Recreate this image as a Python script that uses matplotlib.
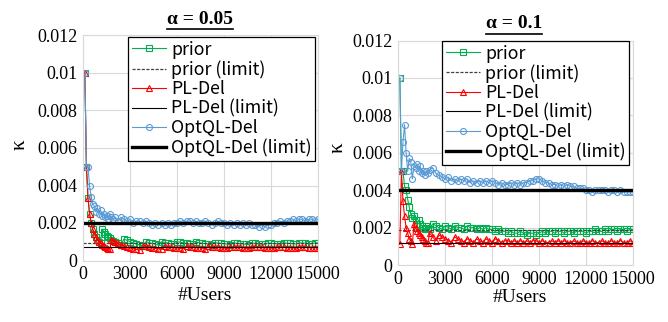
import matplotlib
matplotlib.use("Agg")
import matplotlib.pyplot as plt
from matplotlib.lines import Line2D

# number of users (x axis)
users = list(range(100, 2001, 100)) + list(range(2200, 15001, 200))

# alpha = 0.05
prior_05 = [0.01, 0.005, 0.00333, 0.0025, 0.002, 0.00167, 0.00143, 0.00125, 0.00111, 0.001,
            0.00091, 0.00167, 0.00154, 0.00143, 0.00133, 0.00125, 0.00118, 0.00111, 0.00105, 0.001,
            0.00091, 0.00083, 0.00115, 0.00107, 0.001, 0.00094, 0.00088, 0.00083, 0.00079, 0.001,
            0.00095, 0.00091, 0.00087, 0.00083, 0.001, 0.00096, 0.00093, 0.00089, 0.00086, 0.001,
            0.00097, 0.00094, 0.00091, 0.00088, 0.00086, 0.00097, 0.00095, 0.00092, 0.0009, 0.00088,
            0.00085, 0.00095, 0.00093, 0.00091, 0.00089, 0.00087, 0.00085, 0.00094, 0.00092, 0.0009,
            0.00088, 0.00087, 0.00085, 0.00093, 0.00091, 0.00089, 0.00088, 0.00086, 0.00093, 0.00092,
            0.0009, 0.00089, 0.00087, 0.00094, 0.00092, 0.00091, 0.0009, 0.00088, 0.00094, 0.00093,
            0.00092, 0.0009, 0.00089, 0.00095, 0.00093]
pl_05 = [0.01, 0.005, 0.00333, 0.0025, 0.002, 0.00167, 0.00143, 0.00125, 0.00111, 0.001,
         0.00091, 0.00083, 0.00077, 0.00071, 0.00067, 0.00063, 0.00059, 0.00111, 0.00105, 0.001,
         0.00091, 0.00083, 0.00077, 0.00071, 0.00067, 0.00063, 0.00059, 0.00056, 0.00079, 0.00075,
         0.00071, 0.00068, 0.00065, 0.00063, 0.0006, 0.00077, 0.00074, 0.00071, 0.00069, 0.00067,
         0.00065, 0.00063, 0.00076, 0.00074, 0.00071, 0.00069, 0.00068, 0.00066, 0.00064, 0.00075,
         0.00073, 0.00071, 0.0007, 0.00068, 0.00067, 0.00065, 0.00074, 0.00073, 0.00071, 0.0007,
         0.00069, 0.00067, 0.00066, 0.00074, 0.00073, 0.00071, 0.0007, 0.00069, 0.00068, 0.00067,
         0.00066, 0.00073, 0.00071, 0.0007, 0.00069, 0.00068, 0.00067, 0.00066, 0.00072, 0.00071,
         0.0007, 0.00069, 0.00068, 0.00068, 0.00067]
opt_05 = [0.01, 0.005, 0.005, 0.004, 0.0034, 0.003, 0.0029, 0.0026, 0.0028, 0.0025,
          0.0027, 0.0024, 0.0025, 0.0023, 0.0024, 0.0022, 0.0025, 0.0023, 0.0022, 0.0023,
          0.0021, 0.0023, 0.0022, 0.0021, 0.0022, 0.002, 0.0021, 0.0021, 0.002, 0.0021,
          0.002, 0.0019, 0.002, 0.0019, 0.002, 0.0019, 0.002, 0.0019, 0.002, 0.002,
          0.0021, 0.002, 0.0021, 0.0021, 0.002, 0.0021, 0.002, 0.002, 0.0021, 0.002,
          0.0019, 0.002, 0.0021, 0.002, 0.002, 0.0019, 0.002, 0.0019, 0.002, 0.0019,
          0.002, 0.0019, 0.002, 0.0019, 0.0019, 0.0018, 0.0019, 0.0018, 0.0019, 0.0019,
          0.002, 0.002, 0.0021, 0.002, 0.0021, 0.0021, 0.0022, 0.0021, 0.0022, 0.0022,
          0.0021, 0.0022, 0.0022, 0.0021, 0.0022]
limits_05 = [0.00095, 0.0007, 0.002]  # prior, PL-Del, OptQL-Del

# alpha = 0.1
prior_1 = [0.01, 0.005, 0.005, 0.0042, 0.004, 0.0035, 0.0031, 0.0027, 0.0025, 0.0026,
           0.0024, 0.0022, 0.0024, 0.0022, 0.0021, 0.002, 0.0019, 0.0021, 0.002, 0.0019,
           0.0022, 0.0021, 0.002, 0.0019, 0.0021, 0.002, 0.0019, 0.0021, 0.002, 0.002,
           0.0019, 0.0021, 0.002, 0.002, 0.0019, 0.002, 0.0019, 0.002, 0.0019, 0.0019,
           0.0018, 0.0019, 0.0018, 0.0018, 0.0017, 0.0018, 0.0017, 0.0017, 0.0018, 0.0017,
           0.0016, 0.0017, 0.0017, 0.0016, 0.0017, 0.0018, 0.0017, 0.0018, 0.0018, 0.0017,
           0.0018, 0.0018, 0.0017, 0.0018, 0.0018, 0.0017, 0.0018, 0.0018, 0.0018, 0.0017,
           0.0018, 0.0018, 0.0019, 0.0018, 0.0018, 0.0019, 0.0018, 0.0019, 0.0019, 0.0018,
           0.0019, 0.0019, 0.0018, 0.0019, 0.0019]
pl_1 = [0.0011, 0.005, 0.0034, 0.0026, 0.002, 0.0017, 0.0014, 0.0013, 0.0011, 0.0022,
        0.002, 0.0018, 0.0017, 0.0016, 0.0015, 0.0014, 0.0013, 0.0012, 0.0012, 0.0017,
        0.0015, 0.0013, 0.0016, 0.0015, 0.0014, 0.0013, 0.0012, 0.0015, 0.0014, 0.0013,
        0.0012, 0.0014, 0.0013, 0.0012, 0.0014, 0.0013, 0.0012, 0.0014, 0.0013, 0.0012,
        0.0014, 0.0013, 0.0012, 0.0013, 0.0013, 0.0012, 0.0013, 0.0012, 0.0013, 0.0012,
        0.0013, 0.0012, 0.0013, 0.0013, 0.0012, 0.0013, 0.0012, 0.0012, 0.0013, 0.0012,
        0.0013, 0.0012, 0.0013, 0.0012, 0.0012, 0.0013, 0.0012, 0.0012, 0.0013, 0.0012,
        0.0012, 0.0013, 0.0012, 0.0012, 0.0013, 0.0012, 0.0012, 0.0013, 0.0012, 0.0012,
        0.0013, 0.0012, 0.0012, 0.0013, 0.0012]
opt_1 = [0.01, 0.005, 0.0066, 0.0075, 0.006, 0.005, 0.0057, 0.0055, 0.0046, 0.0053,
         0.0052, 0.0054, 0.005, 0.0053, 0.0049, 0.005, 0.0048, 0.005, 0.0049, 0.0051,
         0.0052, 0.0049, 0.0048, 0.0047, 0.0046, 0.0047, 0.0045, 0.0046, 0.0045, 0.0046,
         0.0045, 0.0046, 0.0044, 0.0045, 0.0044, 0.0045, 0.0044, 0.0045, 0.0044, 0.0045,
         0.0044, 0.0043, 0.0044, 0.0043, 0.0043, 0.0044, 0.0043, 0.0044, 0.0043, 0.0044,
         0.0044, 0.0045, 0.0045, 0.0046, 0.0046, 0.0045, 0.0044, 0.0044, 0.0043, 0.0043,
         0.0042, 0.0043, 0.0042, 0.0043, 0.0042, 0.0042, 0.0041, 0.0041, 0.0041, 0.004,
         0.004, 0.0039, 0.004, 0.004, 0.004, 0.004, 0.0039, 0.004, 0.004, 0.0039,
         0.004, 0.0039, 0.0039, 0.0039, 0.0039]
limits_1 = [0.00185, 0.0012, 0.004]

xticks = [0, 3000, 6000, 9000, 12000, 15000]
yticks = [0, 0.002, 0.004, 0.006, 0.008, 0.01, 0.012]
ytick_labels = ["0", "0.002", "0.004", "0.006", "0.008", "0.01", "0.012"]

GREEN = "#00B050"
RED = "#FF0000"
BLUE = "#5B9BD5"
SERIF = "Liberation Serif"
LEG_FONT = ["Noto Sans CJK JP", "DejaVu Sans"]

fig = plt.figure(figsize=(6.68, 3.22), dpi=100)
W, H = 668, 322


def px_axes(x0, y0, x1, y1):
    return fig.add_axes([x0 / W, 1 - y1 / H, (x1 - x0) / W, (y1 - y0) / H])


def draw(ax, prior, pl, opt, limits):
    ms = 4.3
    ax.plot(users, prior, color=GREEN, lw=0.8, marker="s", ms=ms - 0.3, mfc="none", mew=0.8, label="prior")
    ax.plot([0, 15000], [limits[0]] * 2, color="#404040", lw=0.9, ls=(0, (2.5, 1.2)), label="prior (limit)")
    ax.plot(users, pl, color=RED, lw=0.8, marker="^", ms=ms, mfc="none", mew=0.8, label="PL-Del")
    ax.plot([0, 15000], [limits[1]] * 2, color="black", lw=0.8, label="PL-Del (limit)")
    ax.plot(users, opt, color=BLUE, lw=0.8, marker="o", ms=ms, mfc="none", mew=0.8, label="OptQL-Del")
    ax.plot([0, 15000], [limits[2]] * 2, color="black", lw=2.4, label="OptQL-Del (limit)")
    ax.set_xlim(0, 15000)
    ax.set_ylim(0, 0.012)
    ax.set_xticks(xticks)
    ax.set_xticklabels([str(t) for t in xticks], fontfamily=SERIF, fontsize=13)
    ax.set_yticks(yticks)
    ax.set_yticklabels(ytick_labels, fontfamily=SERIF, fontsize=13)
    ax.tick_params(length=0, pad=4)
    ax.grid(True, color="#D9D9D9", lw=0.8)
    ax.set_axisbelow(True)
    for s in ax.spines.values():
        s.set_color("#D9D9D9")
        s.set_linewidth(0.8)


ax1 = px_axes(83.3, 35.5, 318, 260.5)
draw(ax1, prior_05, pl_05, opt_05, limits_05)
ax2 = px_axes(398.3, 40.5, 633, 265)
draw(ax2, prior_1, pl_1, opt_1, limits_1)

for ax, anchor in [(ax1, (0.988, 0.993)), (ax2, (0.984, 0.998))]:
    leg = ax.legend(loc="upper right", bbox_to_anchor=anchor, borderaxespad=0,
                    fancybox=False, framealpha=1, edgecolor="black",
                    prop={"family": LEG_FONT, "size": 12.8}, handlelength=1.9,
                    handletextpad=0.3, labelspacing=0.08, borderpad=0.2)
    leg.get_frame().set_linewidth(0.9)

# axis labels
fig.text(20 / W, 1 - 145 / H, "κ", family=SERIF, fontsize=15, rotation=90, ha="center", va="center")
fig.text(338 / W, 1 - 148 / H, "κ", family=SERIF, fontsize=15, rotation=90, ha="center", va="center")
fig.text(205 / W, 1 - 295 / H, "#Users", family=SERIF, fontsize=14, ha="center", va="center")
fig.text(520 / W, 1 - 298 / H, "#Users", family=SERIF, fontsize=14, ha="center", va="center")

# underlined bold titles
titles = []
titles.append(fig.text(200 / W, 1 - 19 / H, "α = 0.05", family=SERIF, fontsize=14, weight="bold", ha="center", va="center"))
titles.append(fig.text(514 / W, 1 - 24 / H, "α = 0.1", family=SERIF, fontsize=14, weight="bold", ha="center", va="center"))
fig.canvas.draw()
r = fig.canvas.get_renderer()
for t in titles:
    bb = t.get_window_extent(r)
    y = (bb.y0 - 1) / H
    fig.add_artist(Line2D([bb.x0 / W, bb.x1 / W], [y, y], color="black", lw=1.2))

fig.savefig("out.png", dpi=100)
